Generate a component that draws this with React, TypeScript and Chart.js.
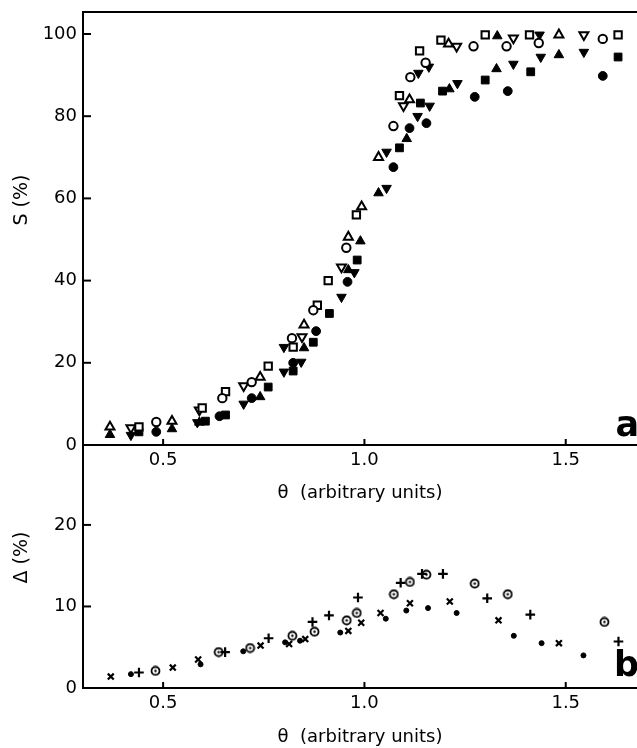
import React, { useEffect, useRef } from "react";
import { Chart, registerables } from "chart.js";

Chart.register(...registerables);

// ---------- data ----------
const xTicks = [0.5, 1.0, 1.5];
const sTicks = [0, 20, 40, 60, 80, 100];
const dTicks = [0, 10, 20];
const X_MIN = 0.301;
const X_MAX = 1.677;
const S_MAX = 105.35;
const D_MAX = 29.8;

// panel a : S (%) vs theta
const openCircle = [[0.483,5.6],[0.647,11.4],[0.72,15.3],[0.82,26],[0.873,32.8],[0.955,48],[1.072,77.6],[1.114,89.5],[1.152,93],[1.271,97],[1.353,97],[1.433,97.8],[1.592,98.8]];
const filledCircle = [[0.483,3.2],[0.64,7],[0.72,11.4],[0.823,20],[0.88,27.7],[0.958,39.7],[1.072,67.6],[1.112,77.1],[1.154,78.3],[1.274,84.7],[1.356,86.1],[1.592,89.8]];
const openSquare = [[0.44,4.4],[0.597,9],[0.655,13],[0.761,19.2],[0.823,23.8],[0.883,34],[0.91,40],[0.98,56],[1.087,85],[1.137,95.9],[1.19,98.5],[1.30,99.8],[1.41,99.8],[1.63,99.8]];
const filledSquare = [[0.44,3.2],[0.605,5.8],[0.655,7.3],[0.761,14.1],[0.823,18],[0.873,25],[0.913,32],[0.982,45],[1.087,72.3],[1.139,83.2],[1.194,86.1],[1.30,88.8],[1.413,90.8],[1.63,94.4]];
const openTriangle = [[0.368,4.4],[0.522,5.8],[0.741,16.5],[0.85,29.2],[0.96,50.6],[0.993,58],[1.035,70],[1.112,84],[1.209,97.6],[1.483,99.8]];
const filledTriangle = [[0.368,2.5],[0.522,3.9],[0.59,5.5],[0.741,11.7],[0.85,23.6],[0.96,42.6],[0.99,49.6],[1.035,61.3],[1.105,74.5],[1.211,86.6],[1.328,91.5],[1.33,99.5],[1.483,94.9]];
const openInvTriangle = [[0.42,4.2],[0.59,8.5],[0.70,14.4],[0.845,26.3],[0.943,43.3],[1.097,82.5],[1.229,97],[1.37,99],[1.545,99.8]];
const filledInvTriangle = [[0.42,2.4],[0.585,5.5],[0.70,10],[0.80,17.8],[0.80,23.8],[0.843,20.2],[0.943,36],[0.975,42],[1.055,62.5],[1.055,71.3],[1.132,80],[1.134,90.5],[1.16,92],[1.162,82.5],[1.231,88],[1.37,92.7],[1.435,99.8],[1.438,94.4],[1.545,95.6]];

// panel b : Delta (%) vs theta
const crossX = [[0.37,1.4],[0.524,2.5],[0.587,3.5],[0.742,5.2],[0.813,5.4],[0.853,6.0],[0.96,7.0],[0.992,8.0],[1.04,9.2],[1.113,10.4],[1.212,10.6],[1.333,8.3],[1.483,5.5]];
const plus = [[0.44,1.9],[0.654,4.4],[0.762,6.1],[0.871,8.1],[0.912,8.9],[0.984,11.1],[1.09,12.9],[1.143,14.0],[1.195,14.0],[1.305,11.0],[1.412,9.0],[1.631,5.7]];
const circledDot = [[0.481,2.1],[0.638,4.4],[0.716,4.9],[0.821,6.4],[0.876,6.9],[0.956,8.3],[0.981,9.2],[1.073,11.5],[1.113,13.0],[1.154,13.9],[1.274,12.8],[1.356,11.5],[1.596,8.1]];
const dot = [[0.42,1.7],[0.593,2.9],[0.699,4.5],[0.803,5.6],[0.84,5.8],[0.94,6.8],[1.053,8.5],[1.104,9.5],[1.158,9.8],[1.229,9.2],[1.371,6.4],[1.44,5.5],[1.544,4.0]];

// ---------- styling helpers ----------
const FONT = "'DejaVu Sans', sans-serif";
const W = 637;
const H = 748;

const toXY = (arr: number[][]) => arr.map(([x, y]) => ({ x, y }));

function marker(data: number[][], style: any, filled: boolean, radius: number, rotation = 0, bw?: number) {
  return {
    data: toXY(data),
    showLine: false,
    pointStyle: style,
    pointRotation: rotation,
    pointRadius: radius,
    pointHoverRadius: radius,
    pointBackgroundColor: filled ? "#000" : "#fff",
    pointBorderColor: "#000",
    pointBorderWidth: bw !== undefined ? bw : filled ? 1 : 2,
  };
}

function zeroPad(s: any) {
  s.paddingTop = 0;
  s.paddingBottom = 0;
  s.paddingLeft = 0;
  s.paddingRight = 0;
}

const inwardTicks = {
  id: "inwardTicks",
  afterDraw(chart: any) {
    const { ctx, chartArea } = chart;
    const xs = chart.scales.x;
    const ys = chart.scales.y;
    ctx.save();
    ctx.strokeStyle = "#000";
    ctx.lineWidth = 2;
    xs.ticks.forEach((t: any) => {
      const px = xs.getPixelForValue(t.value);
      ctx.beginPath();
      ctx.moveTo(px, chartArea.bottom);
      ctx.lineTo(px, chartArea.bottom - 6);
      ctx.stroke();
    });
    ys.ticks.forEach((t: any) => {
      const py = ys.getPixelForValue(t.value);
      ctx.beginPath();
      ctx.moveTo(chartArea.left, py);
      ctx.lineTo(chartArea.left + 8, py);
      ctx.stroke();
    });
    ctx.restore();
  },
};

const panelText = {
  id: "panelText",
  afterDraw(chart: any, _args: any, opts: any) {
    const { ctx, chartArea } = chart;
    const ys = chart.scales.y;
    ctx.save();
    ctx.fillStyle = "#000";
    ctx.translate(opts.titleX, ys.getPixelForValue(opts.titleAt));
    ctx.rotate(-Math.PI / 2);
    ctx.font = `19px ${FONT}`;
    ctx.textAlign = "center";
    ctx.textBaseline = "middle";
    ctx.fillText(opts.title, 0, 0);
    ctx.restore();
    ctx.save();
    ctx.fillStyle = "#000";
    ctx.font = `bold 35px ${FONT}`;
    ctx.textAlign = "right";
    ctx.textBaseline = "alphabetic";
    ctx.fillText(opts.letter, chartArea.right + 2, chartArea.bottom - opts.letterLift);
    ctx.restore();
  },
};

function xScale(titlePadBottom: number) {
  return {
    type: "linear",
    position: "bottom",
    min: X_MIN,
    max: X_MAX,
    afterBuildTicks: (s: any) => {
      s.ticks = xTicks.map((v) => ({ value: v }));
    },
    afterFit: (s: any) => {
      s.height = 60;
      zeroPad(s);
    },
    grid: { display: false, drawTicks: false },
    border: { display: true, color: "#000", width: 2 },
    ticks: {
      color: "#000",
      font: { family: FONT, size: 18 },
      padding: 5,
      maxRotation: 0,
      autoSkip: false,
      callback: (v: any) => Number(v).toFixed(1),
    },
    title: {
      display: true,
      text: "θ  (arbitrary units)",
      color: "#000",
      font: { family: FONT, size: 18 },
      padding: { top: 0, bottom: titlePadBottom },
    },
  };
}

function yScale(max: number, ticks: number[]) {
  return {
    type: "linear",
    position: "left",
    min: 0,
    max,
    afterBuildTicks: (s: any) => {
      s.ticks = ticks.map((v) => ({ value: v }));
    },
    afterFit: (s: any) => {
      s.width = 83;
      zeroPad(s);
    },
    grid: { display: false, drawTicks: false },
    border: { display: true, color: "#000", width: 2 },
    ticks: {
      color: "#000",
      font: { family: FONT, size: 18 },
      padding: 6,
      autoSkip: false,
      callback: (v: any) => String(v),
    },
  };
}

function makeCircledDot(): HTMLCanvasElement {
  const c = document.createElement("canvas");
  c.width = 11;
  c.height = 11;
  const g = c.getContext("2d")!;
  g.strokeStyle = "#000";
  g.fillStyle = "#000";
  g.lineWidth = 1.8;
  g.beginPath();
  g.arc(5.5, 5.5, 4, 0, Math.PI * 2);
  g.stroke();
  g.beginPath();
  g.arc(5.5, 5.5, 1.2, 0, Math.PI * 2);
  g.fill();
  return c;
}

export default function App() {
  const topRef = useRef<HTMLCanvasElement>(null);
  const botRef = useRef<HTMLCanvasElement>(null);

  useEffect(() => {
    const common = {
      animation: false as const,
      responsive: false,
      events: [] as any[],
    };

    const top = new Chart(topRef.current!, {
      type: "scatter",
      data: {
        datasets: [
          marker(openCircle, "circle", false, 4.2),
          marker(filledCircle, "circle", true, 4.4),
          marker(openSquare, "rect", false, 5.2),
          marker(filledSquare, "rect", true, 5.5),
          marker(openTriangle, "triangle", false, 5.2),
          marker(filledTriangle, "triangle", true, 5.5),
          marker(openInvTriangle, "triangle", false, 5.2, 180),
          marker(filledInvTriangle, "triangle", true, 5.5, 180),
        ] as any,
      },
      options: {
        ...common,
        layout: { autoPadding: false, padding: { top: 12, left: 0, right: 0, bottom: H - 445 - 60 } },
        plugins: {
          legend: { display: false },
          tooltip: { enabled: false },
          panelText: { title: "S (%)", titleX: 22, titleAt: 59.6, letter: "a", letterLift: 9 },
        } as any,
        scales: {
          x: xScale(1),
          x2: {
            type: "linear",
            position: "top",
            min: X_MIN,
            max: X_MAX,
            grid: { display: false, drawTicks: false },
            ticks: { display: false },
            border: { display: true, color: "#000", width: 2 },
            afterFit: (s: any) => {
              s.height = 0;
              zeroPad(s);
            },
          },
          y: yScale(S_MAX, sTicks),
        } as any,
      },
      plugins: [inwardTicks, panelText],
    });

    const cdot = makeCircledDot();
    const bot = new Chart(botRef.current!, {
      type: "scatter",
      data: {
        datasets: [
          marker(crossX, "crossRot", false, 4.2, 0, 2.2),
          marker(plus, "cross", false, 4.8, 0, 2.2),
          marker(circledDot, cdot, false, 5, 0, 0),
          marker(dot, "circle", true, 2.5),
        ] as any,
      },
      options: {
        ...common,
        layout: { autoPadding: false, padding: { top: 445, left: 0, right: 0, bottom: H - 688 - 60 } },
        plugins: {
          legend: { display: false },
          tooltip: { enabled: false },
          panelText: { title: "Δ (%)", titleX: 22, titleAt: 16, letter: "b", letterLift: 12 },
        } as any,
        scales: {
          x: xScale(0),
          y: yScale(D_MAX, dTicks),
        } as any,
      },
      plugins: [inwardTicks, panelText],
    });

    return () => {
      top.destroy();
      bot.destroy();
    };
  }, []);

  return (
    <div style={{ position: "absolute", left: 0, top: 0, width: W, height: H, background: "#fff", overflow: "hidden" }}>
      <canvas ref={topRef} width={W} height={H} style={{ position: "absolute", left: 0, top: 0 }} />
      <canvas ref={botRef} width={W} height={H} style={{ position: "absolute", left: 0, top: 0 }} />
    </div>
  );
}
